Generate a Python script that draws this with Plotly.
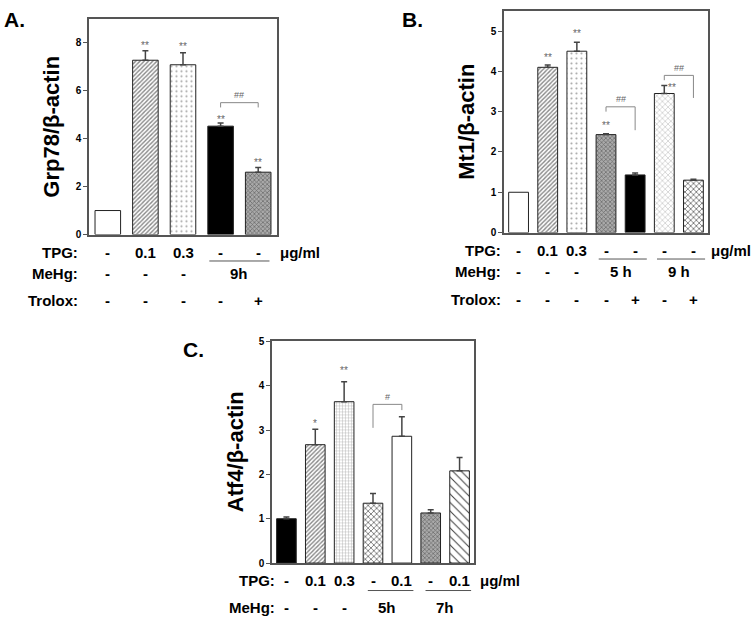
import plotly.graph_objects as go

W, H = 752, 623
FONT = "Liberation Sans, Arial, sans-serif"

# ---------------- data ----------------
a_vals = [1.0, 7.27, 7.08, 4.52, 2.60]
a_err = [0.0, 0.40, 0.50, 0.13, 0.20]
a_sig = ["", "**", "**", "**", "**"]
a_sig_y = [0, 7.9, 7.85, 4.8, 3.0]
a_tpg = ["-", "0.1", "0.3", "-", "-"]
a_mehg = ["-", "-", "-", "", ""]
a_trolox = ["-", "-", "-", "-", "+"]
a_groups = [("9h", 3, 4)]
a_brackets = [(3, 4, 5.5, 5.3, 5.3, "##")]

b_vals = [1.0, 4.10, 4.50, 2.43, 1.43, 3.45, 1.30]
b_err = [0.0, 0.06, 0.22, 0.02, 0.05, 0.20, 0.02]
b_sig = ["", "**", "**", "**", "", "**", ""]
b_sig_y = [0, 4.35, 4.93, 2.65, 0, 3.6, 0]
b_sig_dx = [0, 0, 0, 0, 0, 0.25, 0]
b_tpg = ["-", "0.1", "0.3", "-", "-", "-", "-"]
b_mehg = ["-", "-", "-", "", "", "", ""]
b_trolox = ["-", "-", "-", "-", "+", "-", "+"]
b_groups = [("5 h", 3, 4), ("9 h", 5, 6)]
b_brackets = [(3, 4, 3.12, 3.0, 2.54, "##"), (5, 6, 3.9, 3.78, 3.34, "##")]

c_vals = [1.0, 2.67, 3.64, 1.35, 2.86, 1.13, 2.08]
c_err = [0.04, 0.35, 0.45, 0.22, 0.44, 0.07, 0.30]
c_sig = ["", "*", "**", "", "", "", ""]
c_sig_y = [0, 3.14, 4.34, 0, 0, 0, 0]
c_tpg = ["-", "0.1", "0.3", "-", "0.1", "-", "0.1"]
c_mehg = ["-", "-", "-", "", "", "", ""]
c_groups = [("5h", 3, 4), ("7h", 5, 6)]
c_brackets = [(3, 4, 3.58, 3.05, 3.45, "#")]

# ---------------- styles ----------------
def pat(shape, fg, bg, size, sol):
    return dict(shape=shape, fgcolor=fg, bgcolor=bg, size=size, solidity=sol, fillmode="replace")

WHITE = dict(color="white", pattern=None)
BLACK = dict(color="black", pattern=None)
HATCH = dict(color="white", pattern=pat("/", "#888", "white", 3, 0.45))
DOTS = dict(color="white", pattern=pat(".", "#aaa", "white", 5, 0.15))
GRID = dict(color="white", pattern=pat("+", "#aaa", "white", 3, 0.25))
DARKX = dict(color="#999", pattern=pat("x", "#666", "#aaa", 3, 0.4))
LIGHTX = dict(color="white", pattern=pat("x", "#c4c4c4", "white", 4, 0.3))
OPENX = dict(color="white", pattern=pat("x", "#444", "white", 4, 0.3))
BACK = dict(color="white", pattern=pat("\\", "#444", "white", 6, 0.18))

a_styles = [WHITE, HATCH, DOTS, BLACK, DARKX]
b_styles = [WHITE, HATCH, DOTS, DARKX, BLACK, LIGHTX, OPENX]
c_styles = [BLACK, HATCH, GRID, OPENX, WHITE, DARKX, BACK]

def px(x):
    return x / W

def py(y):
    return 1 - y / H

TXT = dict(family=FONT, size=15, color="black", weight="bold")

panels = [
    dict(k="", vals=a_vals, err=a_err, st=a_styles, box=(89, 277, 13, 233), yr=9, dt=2,
         title="Grp78/β-actin", tx=52, label="A.", lx=14, ly=14,
         sig=a_sig, sigy=a_sig_y, sigdx=[0]*5,
         rows=[("TPG:", a_tpg, 251), ("MeHg:", a_mehg, 273), ("Trolox:", a_trolox, 300)],
         rlx=80, groups=a_groups, gy=260, gtext_y=273, unit_x=278, brackets=a_brackets,
         goff=(-0.3, 0.3)),
    dict(k="2", vals=b_vals, err=b_err, st=b_styles, box=(504, 708, 5, 231), yr=5.5, dt=1,
         title="Mt1/β-actin", tx=467, label="B.", lx=412, ly=14,
         sig=b_sig, sigy=b_sig_y, sigdx=b_sig_dx,
         rows=[("TPG:", b_tpg, 249), ("MeHg:", b_mehg, 271), ("Trolox:", b_trolox, 299)],
         rlx=503, groups=b_groups, gy=258, gtext_y=271, unit_x=709, brackets=b_brackets,
         goff=(-0.25, 0.4)),
    dict(k="3", vals=c_vals, err=c_err, st=c_styles, box=(272, 474, 342, 568), yr=5, dt=1,
         title="Atf4/β-actin", tx=235, label="C.", lx=193, ly=350,
         sig=c_sig, sigy=c_sig_y, sigdx=[0]*7,
         rows=[("TPG:", c_tpg, 586), ("MeHg:", c_mehg, 613)],
         rlx=277, groups=c_groups, gy=596, gtext_y=613, unit_x=478, brackets=c_brackets,
         goff=(-0.18, 0.4)),
]

fig = go.Figure()
annotations = []
shapes = []
layout = {}

for p in panels:
    k = p["k"]
    n = len(p["vals"])
    x0, x1, yt, yb = p["box"]
    for i in range(n):
        s = p["st"][i]
        marker = dict(color=s["color"], line=dict(color="#222", width=1))
        if s["pattern"]:
            marker["pattern"] = s["pattern"]
        fig.add_trace(go.Bar(
            x=[i], y=[p["vals"][i]], xaxis="x" + k, yaxis="y" + k, width=0.68,
            marker=marker,
            error_y=dict(type="data", array=[p["err"][i]], arrayminus=[0], symmetric=False,
                         color="#444", thickness=1.5, width=3, visible=p["err"][i] > 0),
            showlegend=False, hoverinfo="skip",
        ))
    xa = "xaxis" + k
    ya = "yaxis" + k
    layout[xa] = dict(domain=[px(x0), px(x1)], range=[-0.5, n - 0.5], anchor="y" + k,
                      showticklabels=False, ticks="", showgrid=False, zeroline=False,
                      showline=True, linecolor="#555", linewidth=1.5, mirror=True, fixedrange=True)
    layout[ya] = dict(domain=[py(yb), py(yt)], range=[0, p["yr"]], anchor="x" + k,
                      dtick=p["dt"], tick0=0, ticks="outside", ticklen=4, tickwidth=1,
                      tickcolor="#555", showgrid=False, zeroline=False,
                      showline=True, linecolor="#555", linewidth=1.5, mirror=True,
                      tickfont=dict(family=FONT, size=10, color="black", weight="bold"),
                      fixedrange=True)
    annotations.append(dict(text=p["title"], xref="paper", yref="paper",
                            x=px(p["tx"]), y=py((yt + yb) / 2), textangle=-90,
                            showarrow=False, xanchor="center", yanchor="middle",
                            font=dict(family=FONT, size=22, color="black", weight="bold")))
    annotations.append(dict(text=p["label"], xref="paper", yref="paper",
                            x=px(p["lx"]), y=py(p["ly"]), showarrow=False,
                            xanchor="center", yanchor="middle",
                            font=dict(family=FONT, size=21, color="black", weight="bold")))
    for i, (s, sy, dx) in enumerate(zip(p["sig"], p["sigy"], p["sigdx"])):
        if s:
            annotations.append(dict(text=s, xref="x" + k, yref="y" + k, x=i + dx, y=sy,
                                    showarrow=False, xanchor="center", yanchor="middle",
                                    font=dict(family=FONT, size=10, color="#666")))
    for (i0, i1, top, l0, l1, txt) in p["brackets"]:
        for (xa0, ya0, xa1, ya1) in [(i0, l0, i0, top), (i0, top, i1, top), (i1, top, i1, l1)]:
            shapes.append(dict(type="line", xref="x" + k, yref="y" + k,
                               x0=xa0, y0=ya0, x1=xa1, y1=ya1,
                               line=dict(color="#888", width=1)))
        annotations.append(dict(text=txt, xref="x" + k, yref="y" + k, x=(i0 + i1) / 2,
                                y=top + p["yr"] * 0.035, showarrow=False,
                                xanchor="center", yanchor="middle",
                                font=dict(family=FONT, size=9, color="#666")))
    for (lab, vals, ry) in p["rows"]:
        annotations.append(dict(text=lab, xref="paper", yref="paper", x=px(p["rlx"]),
                                y=py(ry), showarrow=False, xanchor="right", yanchor="middle",
                                font=TXT))
        for i, v in enumerate(vals):
            if v:
                annotations.append(dict(text=v, xref="x" + k, yref="paper", x=i, y=py(ry),
                                        showarrow=False, xanchor="center", yanchor="middle",
                                        font=TXT))
    annotations.append(dict(text="μg/ml", xref="paper", yref="paper", x=px(p["unit_x"]),
                            y=py(p["rows"][0][2]), showarrow=False, xanchor="left",
                            yanchor="middle", font=TXT))
    for (gt, g0, g1) in p["groups"]:
        shapes.append(dict(type="line", xref="x" + k, yref="paper",
                           x0=g0 + p["goff"][0], x1=g1 + p["goff"][1],
                           y0=py(p["gy"]), y1=py(p["gy"]),
                           line=dict(color="#555", width=1)))
        annotations.append(dict(text=gt, xref="x" + k, yref="paper", x=(g0 + g1) / 2,
                                y=py(p["gtext_y"]), showarrow=False, xanchor="center",
                                yanchor="middle", font=TXT))

fig.update_layout(
    width=W, height=H, margin=dict(l=0, r=0, t=0, b=0),
    paper_bgcolor="white", plot_bgcolor="white", barmode="overlay",
    annotations=annotations, shapes=shapes,
    **layout,
)

fig.write_html("out.html", config={"displayModeBar": False},
               post_script="document.body.style.margin='0';document.body.style.padding='0';")
